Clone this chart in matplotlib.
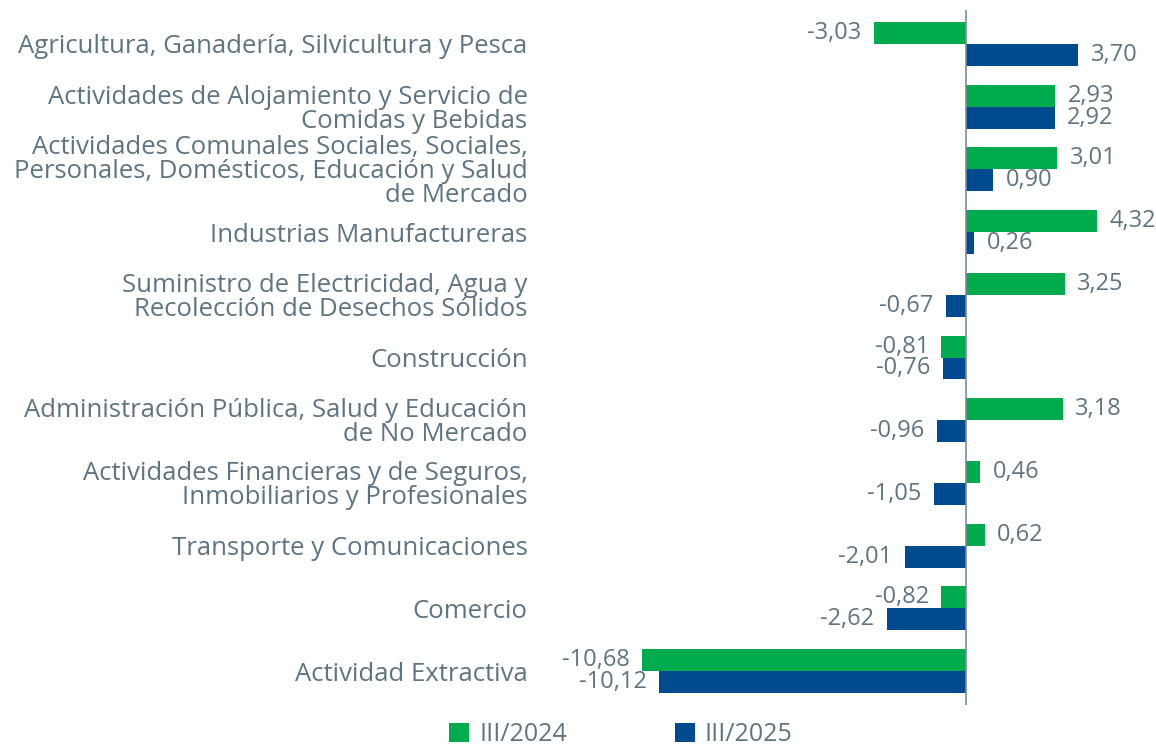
import matplotlib.pyplot as plt
import numpy as np

# datos del gráfico
categorias = [
    "Agricultura, Ganadería, Silvicultura y Pesca",
    "Actividades de Alojamiento y Servicio de\nComidas y Bebidas",
    "Actividades Comunales Sociales, Sociales,\nPersonales, Domésticos, Educación y Salud\nde Mercado",
    "Industrias Manufactureras",
    "Suministro de Electricidad, Agua y\nRecolección de Desechos Sólidos",
    "Construcción",
    "Administración Pública, Salud y Educación\nde No Mercado",
    "Actividades Financieras y de Seguros,\nInmobiliarios y Profesionales",
    "Transporte y Comunicaciones",
    "Comercio",
    "Actividad Extractiva",
]
serie_2024 = [-3.03, 2.93, 3.01, 4.32, 3.25, -0.81, 3.18, 0.46, 0.62, -0.82, -10.68]
serie_2025 = [3.70, 2.92, 0.90, 0.26, -0.67, -0.76, -0.96, -1.05, -2.01, -2.62, -10.12]
nombres = ["III/2024", "III/2025"]

verde = "#00AB4E"
azul = "#004A8F"
gris = "#5F7482"

plt.rcParams['font.family'] = ['Open Sans', 'DejaVu Sans']

fig = plt.figure(figsize=(11.56, 7.49), dpi=100)
ax = fig.add_axes([540 / 1156, 44 / 749, 616 / 1156, 695 / 749])

y = np.arange(len(categorias))
h = 0.35
b1 = ax.barh(y - h / 2, serie_2024, height=h, color=verde, label=nombres[0])
b2 = ax.barh(y + h / 2, serie_2025, height=h, color=azul, label=nombres[1])

fmt = lambda v: f"{v:.2f}".replace('.', ',')
ax.bar_label(b1, labels=[fmt(v) for v in serie_2024], padding=9, color=gris, fontsize=17)
ax.bar_label(b2, labels=[fmt(v) for v in serie_2025], padding=9, color=gris, fontsize=17)

ax.axvline(0, color="#7A8C97", lw=1.2)
ax.set_xlim(-14.04, 6.26)
ax.set_ylim(10.54, -0.54)
ax.set_yticks(y)
ax.set_yticklabels(categorias, fontsize=18.5, color=gris, linespacing=0.95)
ax.tick_params(axis='y', length=0, pad=9)
ax.set_xticks([])
for s in ax.spines.values():
    s.set_visible(False)

fig.legend(loc='lower center', bbox_to_anchor=(0.537, 0.003), ncol=2, frameon=False,
           fontsize=18, labelcolor=gris, handlelength=0.8, handleheight=0.8,
           columnspacing=4.3, handletextpad=0.4, borderpad=0, borderaxespad=0)

fig.savefig("out.png", dpi=100)
